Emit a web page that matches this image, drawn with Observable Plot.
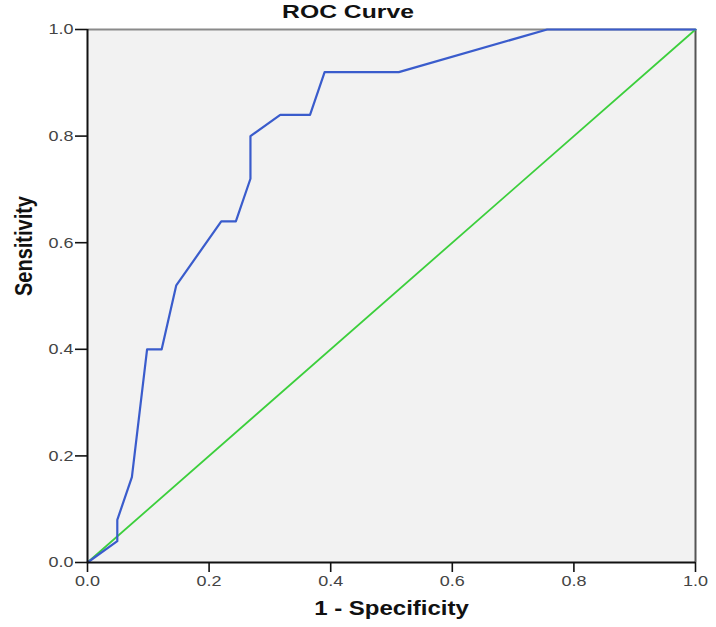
<!DOCTYPE html>
<html>
<head>
<meta charset="utf-8">
<script src="https://cdn.jsdelivr.net/npm/d3@7"></script>
<script src="https://cdn.jsdelivr.net/npm/@observablehq/plot@0.6"></script>
<style>
  html, body { margin: 0; padding: 0; background: #fff; }
  #wrap { position: relative; width: 716px; height: 627px; font-family: "Liberation Sans", Arial, sans-serif; }
  #title { position: absolute; top: 2px; left: 248px; width: 200px; text-align: center; font-weight: bold; font-size: 19px; color: #111; line-height: 20px; transform: scaleX(1.3); transform-origin: center; }
</style>
</head>
<body>
<div id="wrap"><div id="title">ROC Curve</div></div>
<script>
// ROC curve points (1 - Specificity, Sensitivity)
const fpr = [0, 0.049, 0.049, 0.073, 0.098, 0.122, 0.146, 0.220, 0.244, 0.268, 0.268, 0.317, 0.366, 0.390, 0.512, 0.756, 1.0];
const tpr = [0, 0.04, 0.08, 0.16, 0.40, 0.40, 0.52, 0.64, 0.64, 0.72, 0.80, 0.84, 0.84, 0.92, 0.92, 1.0, 1.0];
// Reference diagonal
const refX = [0, 1];
const refY = [0, 1];
// Ticks
const tickValues = [0, 0.2, 0.4, 0.6, 0.8, 1.0];
const xLabel = "1 - Specificity";
const yLabel = "Sensitivity";

const roc = fpr.map((x, i) => ({x, y: tpr[i]}));
const diag = refX.map((x, i) => ({x, y: refY[i]}));

const chart = Plot.plot({
  width: 716,
  height: 627,
  marginTop: 29,
  marginBottom: 65,
  marginLeft: 87,
  marginRight: 21,
  style: {fontFamily: "'Liberation Sans', Arial, sans-serif", background: "transparent"},
  x: {domain: [0, 1]},
  y: {domain: [0, 1]},
  marks: [
    Plot.frame({fill: "#f2f2f2", stroke: null}),
    Plot.ruleY([1], {stroke: "#8a8a8a", strokeWidth: 2}),
    Plot.ruleX([1], {stroke: "#555", strokeWidth: 2}),
    Plot.line(diag, {x: "x", y: "y", stroke: "#3ccf3c", strokeWidth: 1.8}),
    Plot.line(roc, {x: "x", y: "y", stroke: "#3a5ccc", strokeWidth: 2.2}),
    Plot.ruleX([0], {stroke: "#111", strokeWidth: 2}),
    Plot.ruleY([0], {stroke: "#111", strokeWidth: 2}),
    Plot.axisX({ticks: tickValues, tickFormat: d3.format(".1f"), tickSize: 10, tickPadding: 3, fontSize: 15, label: null, stroke: "#111", strokeWidth: 1.6, fill: "#444"}),
    Plot.axisY({ticks: tickValues, tickFormat: d3.format(".1f"), tickSize: 12, tickPadding: 2, fontSize: 15, label: null, stroke: "#111", strokeWidth: 1.6, fill: "#444"}),
    Plot.text([xLabel], {frameAnchor: "bottom", dy: 52, text: d => d, fontWeight: "bold", fontSize: 20, fill: "#111"}),
    Plot.text([yLabel], {frameAnchor: "left", dx: -63, rotate: -90, text: d => d, fontWeight: "bold", fontSize: 20, fill: "#111"})
  ]
});

// Horizontal stretch of all text, as in the reference image
const S = 1.2;
chart.querySelectorAll("text").forEach(t => {
  let tr = t.getAttribute("transform") || "";
  const x = +(t.getAttribute("x") || 0), y = +(t.getAttribute("y") || 0);
  if (x || y) { tr += ` translate(${x},${y})`; t.setAttribute("x", 0); t.setAttribute("y", 0); }
  const rotated = tr.includes("rotate");
  tr += rotated ? ` scale(1,${S})` : ` scale(${S},1)`;
  t.setAttribute("transform", tr);
});
document.getElementById("wrap").appendChild(chart);
</script>
</body>
</html>
